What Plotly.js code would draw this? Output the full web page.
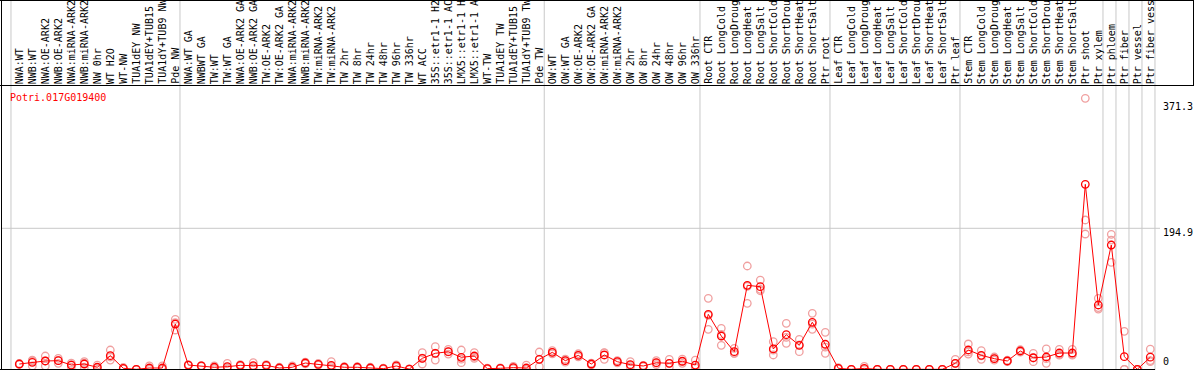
<!DOCTYPE html>
<html>
<head>
<meta charset="utf-8">
<script src="https://cdn.plot.ly/plotly-3.0.1.min.js"></script>
<style>
html,body{margin:0;padding:0;background:#fff;overflow:hidden;}
#chart{width:1194px;height:370px;}
</style>
</head>
<body>
<div id="chart"></div>
<script>
const geneName = "Potri.017G019400";

const categories = [
  "NWA:WT","NWB:WT","NWA:OE-ARK2","NWB:OE-ARK2","NWA:miRNA-ARK2","NWB:miRNA-ARK2","NW 0hr","WT H2O","WT-NW",
  "TUA1dEY NW","TUA1dEY+TUB15","TUA1dY+TUB9 NW","Pde NW",
  "NWA:WT GA","NWBWT GA","TW:WT","TW:WT GA","NWA:OE-ARK2 GA","NWB:OE-ARK2 GA","TW:OE-ARK2","TW:OE-ARK2 GA",
  "NWA:miRNA-ARK2","NWB:miRNA-ARK2","TW:miRNA-ARK2","TW:miRNA-ARK2","TW 2hr","TW 8hr","TW 24hr","TW 48hr","TW 96hr","TW 336hr",
  "WT ACC","35S::etr1-1 H2","35S::etr1-1 AC","LMX5::etr1-1 H","LMX5::etr1-1 A","WT-TW","TUA1dEY TW","TUA1dEY+TUB15","TUA1dY+TUB9 TW","Pde TW",
  "OW:WT","OW:WT GA","OW:OE-ARK2","OW:OE-ARK2 GA","OW:miRNA-ARK2","OW:miRNA-ARK2","OW 2hr","OW 8hr","OW 24hr","OW 48hr","OW 96hr","OW 336hr",
  "Root CTR","Root LongCold","Root LongDroug","Root LongHeat","Root LongSalt","Root ShortCold","Root ShortDrou","Root ShortHeat","Root ShortSalt","Ptr root",
  "Leaf CTR","Leaf LongCold","Leaf LongDroug","Leaf LongHeat","Leaf LongSalt","Leaf ShortCold","Leaf ShortDrou","Leaf ShortHeat","Leaf ShortSalt","Ptr leaf",
  "Stem CTR","Stem LongCold","Stem LongDroug","Stem LongHeat","Stem LongSalt","Stem ShortCold","Stem ShortDrou","Stem ShortHeat","Stem ShortSalt","Ptr shoot",
  "Ptr xylem","Ptr phloem","Ptr fiber","Ptr vessel","Ptr fiber vess"
];

const meanValues = [
  7.3, 9.7, 11.5, 11.9, 5.9, 7.3, 2.8, 18.8, 1.4, 0, 1.8, 1.8, 62.6,
  5.9, 4.6, 2.8, 3.6, 5.5, 5.0, 5.5, 1.8, 2.8, 8.7, 6.9, 5.5, 2.8, 2.8, 1.8, 0.9, 4.6, 0.3,
  15.2, 22.1, 24.3, 16.6, 18.4, 0.9, 1.4, 2.3, 1.8, 13.8,
  23.5, 11.9, 19.3, 7.3, 19.8, 10.5, 6.4, 4.6, 9.1, 8.3, 11.1, 5.9,
  76.0, 46.0, 24.3, 116.1, 114.2, 28.1, 47.8, 33.2, 65.0, 34.6,
  1.4, 0, 1.3, 0, 0, 0, 0, 0, 0, 8.3,
  26.7, 19.3, 14.7, 11.5, 25.3, 16.0, 17.0, 22.5, 22.5, 255.7,
  88.9, 171.8, 17.5, 0, 16.7
];

const rep1 = [
  8, 12.8, 18.4, 15.2, 8.5, 10.5, 5.9, 26.7, 2.5, 0, 4.6, 4.6, 69.1,
  6.5, 5.2, 4.6, 8.3, 6.5, 9.1, 6.5, 2.8, 4.6, 10, 8, 10.5, 3.8, 3.8, 2.8, 1.5, 6, 0.6,
  23, 31.3, 27.6, 26.7, 23, 1.5, 2, 4, 5.9, 23.9,
  25.7, 14, 21.5, 8.5, 23, 12, 10.5, 5.5, 12, 13.8, 14, 12.8,
  98.1, 56.7, 29, 142.8, 123.4, 38.2, 63.6, 41.5, 77.4, 51.1,
  2.2, 0, 4, 0, 0, 0, 0, 0, 0, 13.8,
  35, 25.7, 17, 12.5, 27, 22.1, 28.1, 27.6, 27.6, 374.6,
  98.1, 186.6, 52.5, 0, 27.8
];

const rep2 = [
  7, 11.5, 11.5, 12.3, 6.4, 8.6, 2.5, 17, 1.2, 0, 0.8, 0.8, 64.4,
  5.9, 4.6, 2.8, 2, 5.5, 4, 5.5, 1.8, 2.8, 8.7, 6.9, 4, 2.8, 2.8, 1.8, 0.9, 4.6, 0.3,
  15.3, 22.2, 24.2, 14, 17, 0.9, 1.4, 2, 0, 13.9,
  23.5, 11.9, 19.3, 7.3, 22.6, 10.5, 5.5, 4.6, 8.7, 8.3, 11, 3,
  74.6, 48.1, 22.1, 114.5, 108.6, 26.5, 44.1, 33.8, 62.4, 30.6,
  1.4, 0, 0, 0, 0, 0, 0, 0, 0, 8,
  24, 18.6, 14.8, 11.6, 25.4, 15.6, 14.7, 20.5, 20.5, 206.4,
  85.3, 178.7, 0, 0, 12
];

const rep3 = [
  7, 4.6, 4.6, 8.3, 2.8, 2.8, 0, 12.8, 0.5, 0, 0, 0, 54.3,
  5.3, 4, 1, 0.5, 4.5, 2, 4.5, 0.8, 1, 7.4, 5.8, 2, 1.8, 1.8, 0.8, 0.3, 3.2, 0,
  7.3, 12.8, 21.1, 9.1, 15.2, 0.3, 0.8, 0.9, 0, 3.6,
  21.3, 9.8, 17.1, 6.1, 13.8, 9, 3.2, 3.7, 6.6, 2.8, 8.3, 2,
  55.3, 33.2, 22.1, 91.2, 110.6, 19.8, 35.9, 24.3, 55.3, 22.1,
  0.6, 0, 0, 0, 0, 0, 0, 0, 0, 3,
  21.1, 13.8, 12.6, 10.7, 23.8, 10.5, 8.3, 19.5, 19.5, 187,
  83.3, 147.9, 0, 0, 10.6
];

// group separators (in category-index units)
const groupSeparators = [-0.64, 12.36, 40.38, 52.36, 62.36, 72.36, 83.36, 84.36, 85.36, 86.36, 87.36];
const yTickValues = [371.3, 194.9, 0];
const yTickLabels = ["371.3", "194.9", "0"];
const yGridValues = [194.9];

const W = 1194, H = 370;
const FONT = "DejaVu Sans Mono, monospace";
const px = x => x / W;
const py = y => 1 - y / H;

// axis mapping: point i at x = 19.3 + 13*i px ; value 0 at y = 369.3 px, 0.7234 px/unit
const X0 = 19.3, DX = 13, Y0 = 369.3, KY = 0.7234;
const xRange = [(0 - X0) / DX, (W - X0) / DX];
const yRange = [(Y0 - H) / KY, Y0 / KY];

const idx = categories.map((_, i) => i);

const repX = [], repY = [];
[rep1, rep2, rep3].forEach(r => r.forEach((v, i) => { repX.push(i); repY.push(v); }));

const traces = [
  {
    type: "scatter", mode: "markers", x: repX, y: repY, hoverinfo: "skip",
    marker: {symbol: "circle-open", size: 7.5, color: "#f0a0a0", line: {width: 1.3, color: "#f0a0a0"}},
    cliponaxis: false
  },
  {
    type: "scatter", mode: "lines+markers", x: idx, y: meanValues,
    line: {color: "#ff0000", width: 1},
    marker: {symbol: "circle-open", size: 7.5, color: "#ff0000", line: {width: 1.3, color: "#ff0000"}},
    cliponaxis: false
  }
];

const shapes = [];
groupSeparators.forEach(g => shapes.push({
  type: "line", xref: "x", yref: "paper", x0: g, x1: g, y0: 0, y1: 1,
  line: {color: "#c8c8c8", width: 1}, layer: "below"
}));
yGridValues.forEach(v => shapes.push({
  type: "line", xref: "paper", yref: "y", x0: px(1), x1: px(1160), y0: v, y1: v,
  line: {color: "#c8c8c8", width: 1}, layer: "below"
}));
const black = {color: "#000000", width: 1};
shapes.push({type: "line", xref: "paper", yref: "paper", x0: 0, x1: 1, y0: py(0.5), y1: py(0.5), line: black});
shapes.push({type: "line", xref: "paper", yref: "paper", x0: 0, x1: 1, y0: py(85.5), y1: py(85.5), line: black});
shapes.push({type: "line", xref: "paper", yref: "paper", x0: px(1.5), x1: px(1.5), y0: 0, y1: 1, line: black});
shapes.push({type: "line", xref: "paper", yref: "paper", x0: px(1193.5), x1: px(1193.5), y0: py(0), y1: py(85.5), line: black});
shapes.push({type: "line", xref: "paper", yref: "paper", x0: 0, x1: px(1155), y0: py(369.5), y1: py(369.5), line: black});

const annotations = [];
categories.forEach((c, i) => annotations.push({
  text: c, x: i, xref: "x", y: py(85), yref: "paper",
  xanchor: "center", yanchor: "bottom", textangle: -90, showarrow: false,
  font: {family: FONT, size: 10, color: "#000000"}, borderpad: 0
}));
const tickShift = {"371.3": -6, "194.9": -4, "0": 7.6};
yTickValues.forEach((v, k) => annotations.push({
  text: yTickLabels[k], x: px(1162), xref: "paper", y: v, yref: "y",
  xanchor: "left", yanchor: "middle", yshift: tickShift[yTickLabels[k]], showarrow: false,
  font: {family: FONT, size: 10, color: "#000000"}, borderpad: 0
}));

const layout = {
  width: W, height: H,
  margin: {l: 0, r: 0, t: 0, b: 0, pad: 0},
  paper_bgcolor: "#ffffff", plot_bgcolor: "#ffffff",
  showlegend: false,
  title: {
    text: geneName, xref: "paper", yref: "paper", x: px(10), xanchor: "left",
    y: py(97), yanchor: "middle", font: {family: FONT, size: 10, color: "#ff0000"}
  },
  xaxis: {range: xRange, showgrid: false, zeroline: false, showticklabels: false, ticks: "", showline: false, fixedrange: true},
  yaxis: {range: yRange, showgrid: false, zeroline: false, showticklabels: false, ticks: "", showline: false, fixedrange: true},
  shapes: shapes,
  annotations: annotations
};

Plotly.newPlot("chart", traces, layout, {displayModeBar: false, staticPlot: true});
</script>
</body>
</html>
